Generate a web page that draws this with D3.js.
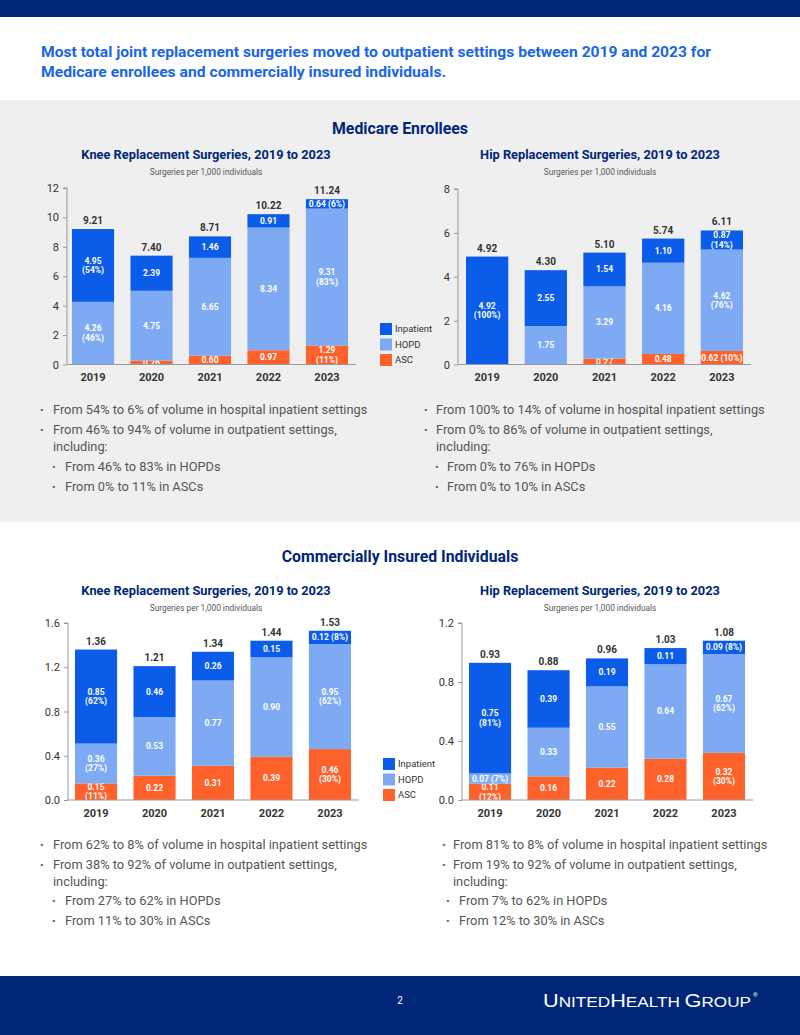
<!DOCTYPE html>
<html><head><meta charset="utf-8">
<script src="https://cdn.jsdelivr.net/npm/d3@7/dist/d3.min.js"></script>
<style>
html,body{margin:0;padding:0;background:#fff;}
svg{display:block;font-family:Roboto,"Liberation Sans",sans-serif;}
</style></head>
<body>
<svg id="page" width="800" height="1035"></svg>
<script>
// ---------- DATA ----------
const years = ["2019","2020","2021","2022","2023"];
const seriesNames = ["ASC","HOPD","Inpatient"];
const legendNames = ["Inpatient","HOPD","ASC"];

// Medicare knee
const mkASC = [0, 0.26, 0.60, 0.97, 1.29];
const mkHOPD = [4.26, 4.75, 6.65, 8.34, 9.31];
const mkInp = [4.95, 2.39, 1.46, 0.91, 0.64];
const mkTotal = [9.21, 7.40, 8.71, 10.22, 11.24];
const mkPctASC = ["", "", "", "", "11%"];
const mkPctHOPD = ["46%", "", "", "", "83%"];
const mkPctInp = ["54%", "", "", "", "6%"];
const mkTicks = [0, 2, 4, 6, 8, 10, 12];

// Medicare hip
const mhASC = [0, 0, 0.27, 0.48, 0.62];
const mhHOPD = [0, 1.75, 3.29, 4.16, 4.62];
const mhInp = [4.92, 2.55, 1.54, 1.10, 0.87];
const mhTotal = [4.92, 4.30, 5.10, 5.74, 6.11];
const mhPctASC = ["", "", "", "", "10%"];
const mhPctHOPD = ["", "", "", "", "76%"];
const mhPctInp = ["100%", "", "", "", "14%"];
const mhTicks = [0, 2, 4, 6, 8];

// Commercial knee
const ckASC = [0.15, 0.22, 0.31, 0.39, 0.46];
const ckHOPD = [0.36, 0.53, 0.77, 0.90, 0.95];
const ckInp = [0.85, 0.46, 0.26, 0.15, 0.12];
const ckTotal = [1.36, 1.21, 1.34, 1.44, 1.53];
const ckPctASC = ["11%", "", "", "", "30%"];
const ckPctHOPD = ["27%", "", "", "", "62%"];
const ckPctInp = ["62%", "", "", "", "8%"];
const ckTicks = [0, 0.4, 0.8, 1.2, 1.6];

// Commercial hip
const chASC = [0.11, 0.16, 0.22, 0.28, 0.32];
const chHOPD = [0.07, 0.33, 0.55, 0.64, 0.67];
const chInp = [0.75, 0.39, 0.19, 0.11, 0.09];
const chTotal = [0.93, 0.88, 0.96, 1.03, 1.08];
const chPctASC = ["12%", "", "", "", "30%"];
const chPctHOPD = ["7%", "", "", "", "62%"];
const chPctInp = ["81%", "", "", "", "8%"];
const chTicks = [0, 0.4, 0.8, 1.2];

// Texts
const headline = ["Most total joint replacement surgeries moved to outpatient settings between 2019 and 2023 for",
                  "Medicare enrollees and commercially insured individuals."];
const kneeTitle = "Knee Replacement Surgeries, 2019 to 2023";
const hipTitle = "Hip Replacement Surgeries, 2019 to 2023";
const subTitle = "Surgeries per 1,000 individuals";
const mkBullets = [
  {lvl:0, lines:["From 54% to 6% of volume in hospital inpatient settings"]},
  {lvl:0, lines:["From 46% to 94% of volume in outpatient settings,","including:"]},
  {lvl:1, lines:["From 46% to 83% in HOPDs"]},
  {lvl:1, lines:["From 0% to 11% in ASCs"]}];
const mhBullets = [
  {lvl:0, lines:["From 100% to 14% of volume in hospital inpatient settings"]},
  {lvl:0, lines:["From 0% to 86% of volume in outpatient settings,","including:"]},
  {lvl:1, lines:["From 0% to 76% in HOPDs"]},
  {lvl:1, lines:["From 0% to 10% in ASCs"]}];
const ckBullets = [
  {lvl:0, lines:["From 62% to 8% of volume in hospital inpatient settings"]},
  {lvl:0, lines:["From 38% to 92% of volume in outpatient settings,","including:"]},
  {lvl:1, lines:["From 27% to 62% in HOPDs"]},
  {lvl:1, lines:["From 11% to 30% in ASCs"]}];
const chBullets = [
  {lvl:0, lines:["From 81% to 8% of volume in hospital inpatient settings"]},
  {lvl:0, lines:["From 19% to 92% of volume in outpatient settings,","including:"]},
  {lvl:1, lines:["From 7% to 62% in HOPDs"]},
  {lvl:1, lines:["From 12% to 30% in ASCs"]}];

// ---------- STYLE ----------
const NAVY = "#002677";
const BLUE_HEAD = "#1865E6";
const colors = {Inpatient:"#0B5CE8", HOPD:"#7DAAF3", ASC:"#FF612B"};
const GREY_BG = "#EFEFEF";
const TEXT = "#333";

const svg = d3.select("#page");

// backgrounds
svg.append("rect").attr("x",0).attr("y",0).attr("width",800).attr("height",17).attr("fill",NAVY);
svg.append("rect").attr("x",0).attr("y",100).attr("width",800).attr("height",422).attr("fill",GREY_BG);
svg.append("rect").attr("x",0).attr("y",976).attr("width",800).attr("height",59).attr("fill",NAVY);

// headline
svg.append("text").attr("x",41).attr("y",57).attr("fill",BLUE_HEAD)
  .attr("font-size",15).attr("font-weight",700).attr("textLength",670).attr("lengthAdjust","spacingAndGlyphs")
  .text(headline[0]);
svg.append("text").attr("x",41).attr("y",77).attr("fill",BLUE_HEAD)
  .attr("font-size",15).attr("font-weight",700).attr("textLength",405).attr("lengthAdjust","spacingAndGlyphs")
  .text(headline[1]);

// section titles
svg.append("text").attr("x",400).attr("y",134).attr("text-anchor","middle").attr("fill",NAVY)
  .attr("font-size",15.8).attr("font-weight",700).text("Medicare Enrollees");
svg.append("text").attr("x",400).attr("y",562).attr("text-anchor","middle").attr("fill",NAVY)
  .attr("font-size",15.8).attr("font-weight",700).text("Commercially Insured Individuals");

function drawChart(cfg){
  const g = svg.append("g");
  // titles
  g.append("text").attr("x",cfg.cx).attr("y",cfg.titleY).attr("text-anchor","middle").attr("fill",NAVY)
    .attr("font-size",12.8).attr("font-weight",700).text(cfg.title);
  g.append("text").attr("x",cfg.cx).attr("y",cfg.titleY+16).attr("text-anchor","middle").attr("fill","#555")
    .attr("font-size",8.3).text(subTitle);

  const x = d3.scaleBand().domain(years).range(cfg.barRange).paddingInner(0.28).paddingOuter(0);
  const y = d3.scaleLinear().domain([0, d3.max(cfg.ticks)]).range([cfg.yBottom, cfg.yTop]);

  const rows = years.map((yr,i)=>({year:yr, ASC:cfg.asc[i], HOPD:cfg.hopd[i], Inpatient:cfg.inp[i],
    pct:{ASC:cfg.pctASC[i], HOPD:cfg.pctHOPD[i], Inpatient:cfg.pctInp[i]}, total:cfg.total[i]}));
  const stack = d3.stack().keys(seriesNames)(rows);

  // y axis
  const yAxis = d3.axisLeft(y).tickValues(cfg.ticks).tickSize(4).tickPadding(4)
    .tickFormat(cfg.fmt);
  const ya = g.append("g").attr("transform",`translate(${cfg.axisX},0)`).call(yAxis);
  ya.select(".domain").attr("stroke","#999").attr("d",`M-4,${cfg.yTop}H0V${cfg.yBottom}`);
  ya.selectAll(".tick line").attr("stroke","#999");
  ya.selectAll(".tick text").attr("fill",TEXT).attr("font-size",11).attr("font-family","Roboto, sans-serif");

  // bars
  stack.forEach(layer=>{
    const key = layer.key;
    g.append("g").selectAll("rect").data(layer).join("rect")
      .attr("x",d=>x(d.data.year)).attr("width",x.bandwidth())
      .attr("y",d=>y(d[1])).attr("height",d=>Math.max(0,y(d[0])-y(d[1])))
      .attr("fill",colors[key]);
    const lab = g.append("g").selectAll("text").data(layer.filter(d=>d[1]-d[0]>0)).join("text")
      .attr("x",d=>x(d.data.year)+x.bandwidth()/2)
      .attr("y",d=>(y(d[0])+y(d[1]))/2)
      .attr("text-anchor","middle").attr("fill","#fff").attr("font-size",8.5).attr("font-weight",700);
    lab.each(function(d){
      const t = d3.select(this);
      const v = (d[1]-d[0]).toFixed(2);
      const p = d.data.pct[key];
      const h = y(d[0])-y(d[1]);
      if(p && h>=15){
        t.append("tspan").attr("x",x(d.data.year)+x.bandwidth()/2).attr("dy","-0.2em").text(v);
        t.append("tspan").attr("x",x(d.data.year)+x.bandwidth()/2).attr("dy","1.1em").text(`(${p})`);
      } else {
        t.attr("dy","0.35em").text(p ? `${v} (${p})` : v);
      }
    });
  });

  // totals
  g.append("g").selectAll("text").data(rows).join("text")
    .attr("x",d=>x(d.year)+x.bandwidth()/2).attr("y",d=>y(d.total)-5)
    .attr("text-anchor","middle").attr("fill",TEXT).attr("font-size",10).attr("font-weight",700)
    .text(d=>d.total.toFixed(2));

  // x axis
  const xa = g.append("g").attr("transform",`translate(0,${cfg.yBottom})`)
    .call(d3.axisBottom(x).tickSize(0).tickPadding(9));
  xa.select(".domain").attr("stroke","#999").attr("d",`M${cfg.axisX},0H${cfg.axisEnd}`);
  xa.selectAll(".tick text").attr("fill",TEXT).attr("font-size",11).attr("font-weight",700).attr("font-family","Roboto, sans-serif");

  // legend
  if(cfg.legend){
    legendNames.forEach((n,i)=>{
      g.append("rect").attr("x",cfg.legend[0]).attr("y",cfg.legend[1]+i*15.5).attr("width",12).attr("height",12).attr("fill",colors[n]);
      g.append("text").attr("x",cfg.legend[0]+15).attr("y",cfg.legend[1]+i*15.5+6).attr("dy","0.35em")
        .attr("fill",TEXT).attr("font-size",9.5).text(n);
    });
  }
}

const fmt0 = d3.format("d"), fmt1 = d3.format(".1f");
drawChart({title:kneeTitle, cx:206, titleY:159, asc:mkASC, hopd:mkHOPD, inp:mkInp, total:mkTotal,
  pctASC:mkPctASC, pctHOPD:mkPctHOPD, pctInp:mkPctInp, ticks:mkTicks, fmt:fmt0,
  axisX:67, axisEnd:356, barRange:[72,348], yTop:188, yBottom:364.5, legend:[380,323]});
drawChart({title:hipTitle, cx:600, titleY:159, asc:mhASC, hopd:mhHOPD, inp:mhInp, total:mhTotal,
  pctASC:mhPctASC, pctHOPD:mhPctHOPD, pctInp:mhPctInp, ticks:mhTicks, fmt:fmt0,
  axisX:458, axisEnd:751, barRange:[466,743], yTop:189, yBottom:364.5});
drawChart({title:kneeTitle, cx:206, titleY:595, asc:ckASC, hopd:ckHOPD, inp:ckInp, total:ckTotal,
  pctASC:ckPctASC, pctHOPD:ckPctHOPD, pctInp:ckPctInp, ticks:ckTicks, fmt:fmt1,
  axisX:68, axisEnd:359, barRange:[75,351], yTop:623, yBottom:800, legend:[383,758]});
drawChart({title:hipTitle, cx:600, titleY:595, asc:chASC, hopd:chHOPD, inp:chInp, total:chTotal,
  pctASC:chPctASC, pctHOPD:chPctHOPD, pctInp:chPctInp, ticks:chTicks, fmt:fmt1,
  axisX:462, axisEnd:753, barRange:[469,745], yTop:623, yBottom:800});

function drawBullets(list, bx, tx, sbx, stx, ys){
  let k = 0;
  list.forEach(b=>{
    b.lines.forEach((ln,j)=>{
      const yy = ys[k++];
      if(j===0){
        svg.append("text").attr("x",b.lvl? sbx:bx).attr("y",yy).attr("dy","0.35em").attr("fill","#666")
          .attr("font-size",11).text("•");
      }
      svg.append("text").attr("x",b.lvl? stx:tx).attr("y",yy).attr("dy","0.35em").attr("fill","#555")
        .attr("font-size",12.8).text(ln);
    });
  });
}
drawBullets(mkBullets, 40, 53, 52, 65, [410,430,447,467,487]);
drawBullets(mhBullets, 424, 436, 435, 447, [410,430,447,467,487]);
drawBullets(ckBullets, 40, 53, 52, 65, [845,865,882,901,921]);
drawBullets(chBullets, 442, 453, 446, 459, [845,865,882,901,921]);

// footer
svg.append("text").attr("x",400).attr("y",1000).attr("dy","0.35em").attr("text-anchor","middle")
  .attr("fill","#fff").attr("font-size",10).text("2");
const logo = svg.append("text").attr("x",543).attr("y",1007).attr("fill","#fff")
  .attr("font-family","'Liberation Sans Narrow','Liberation Sans',sans-serif")
  .attr("textLength",208).attr("lengthAdjust","spacingAndGlyphs");
logo.append("tspan").attr("font-size",19).text("U");
logo.append("tspan").attr("font-size",15).text("NITED");
logo.append("tspan").attr("font-size",19).text("H");
logo.append("tspan").attr("font-size",15).text("EALTH ");
logo.append("tspan").attr("font-size",19).text("G");
logo.append("tspan").attr("font-size",15).text("ROUP");
svg.append("text").attr("x",753).attr("y",997).attr("fill","#fff").attr("font-size",6).text("®");
</script>
</body></html>
